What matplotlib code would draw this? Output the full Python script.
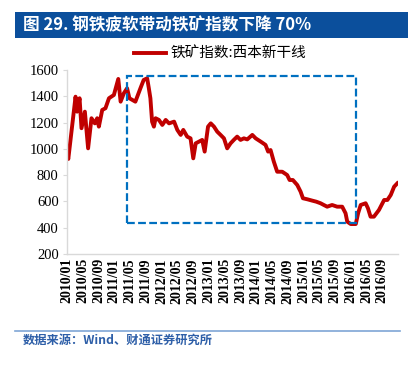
import matplotlib
matplotlib.use("Agg")
import matplotlib.pyplot as plt
import matplotlib.dates as mdates
from matplotlib.patches import Rectangle
import pandas as pd

dates = ["2010-01-01", "2010-01-11", "2010-03-08", "2010-03-20", "2010-04-08", "2010-04-23",
         "2010-05-19", "2010-06-13", "2010-07-09", "2010-08-04", "2010-08-22", "2010-09-04",
         "2010-09-30", "2010-10-25", "2010-11-21", "2010-12-29", "2011-02-01", "2011-02-19",
         "2011-03-16", "2011-04-10", "2011-04-28", "2011-06-13", "2011-07-22", "2011-08-16",
         "2011-09-12", "2011-09-25", "2011-10-07", "2011-10-20", "2011-11-03", "2011-11-16",
         "2011-12-12", "2012-01-07", "2012-02-02", "2012-02-28", "2012-04-07", "2012-05-02",
         "2012-05-28", "2012-06-17", "2012-07-17", "2012-08-12", "2012-09-02", "2012-09-21",
         "2012-10-16", "2012-11-10", "2012-11-29", "2012-12-25", "2013-01-15", "2013-02-09",
         "2013-03-06", "2013-04-01", "2013-04-27", "2013-05-22", "2013-06-17", "2013-07-12",
         "2013-08-07", "2013-09-02", "2013-09-28", "2013-10-24", "2013-12-02", "2013-12-28",
         "2014-02-05", "2014-03-14", "2014-04-03", "2014-04-22", "2014-05-17", "2014-06-12",
         "2014-07-21", "2014-08-28", "2014-09-16", "2014-10-11", "2014-11-14", "2014-12-10",
         "2014-12-28", "2015-02-01", "2015-03-10", "2015-04-10", "2015-05-13", "2015-06-07",
         "2015-07-03", "2015-08-10", "2015-09-18", "2015-10-27", "2015-11-22", "2015-12-05",
         "2016-01-01", "2016-02-09", "2016-02-27", "2016-03-18", "2016-04-25", "2016-05-13",
         "2016-06-02", "2016-06-28", "2016-08-06", "2016-09-15", "2016-10-10", "2016-11-05",
         "2016-12-01", "2016-12-26"]
values = [974, 923, 1397, 1283, 1385, 1157,
          1283, 1004, 1233, 1194, 1233, 1169,
          1296, 1309, 1385, 1410, 1532, 1359,
          1423, 1461, 1385, 1359, 1461, 1524,
          1537, 1461, 1385, 1207, 1169, 1233,
          1220, 1182, 1220, 1194, 1207, 1144,
          1106, 1144, 1093, 1080, 928, 1042,
          1055, 1068, 979, 1169, 1194, 1169,
          1131, 1106, 1080, 1004, 1042, 1068,
          1093, 1068, 1080, 1072, 1106, 1080,
          1055, 1030, 979, 991, 903, 826,
          826, 801, 763, 763, 725, 674,
          624, 616, 606, 598, 586, 573,
          560, 573, 560, 560, 510, 446,
          428, 428, 510, 573, 586, 548,
          484, 484, 535, 611, 611, 649,
          712, 738]

series_label = "铁矿指数:西本新干线"
title = "图 29. 钢铁疲软带动铁矿指数下降 70%"
source = "数据来源：Wind、财通证券研究所"
box_start, box_end = "2011-04-07", "2016-02-12"
box_low, box_high = 436, 1555

cjk = ["Noto Sans CJK SC", "DejaVu Sans"]
serif = ["Liberation Serif", "DejaVu Serif"]

fig = plt.figure(figsize=(4.13, 3.67), dpi=100)
fig.patch.set_facecolor("white")

# title bar
fig.patches.append(Rectangle((15 / 413, 1 - 38 / 367), 393 / 413, 26 / 367,
                             transform=fig.transFigure, facecolor="#0b4f9c",
                             edgecolor="none", zorder=0))
fig.text(23 / 413, 1 - 25 / 367, title, color="white", fontsize=12,
         fontweight="bold", family=cjk, va="center", ha="left")

ax = fig.add_axes([67 / 413, 1 - 254 / 367, 331 / 413, 184 / 367])
x = pd.to_datetime(dates)
ax.plot(x, values, color="#c00000", lw=2.8, label=series_label, solid_joinstyle="round")

x0 = mdates.date2num(pd.Timestamp(box_start))
x1 = mdates.date2num(pd.Timestamp(box_end))
ax.add_patch(Rectangle((x0, box_low), x1 - x0, box_high - box_low, fill=False,
                       edgecolor="#0070c0", lw=1.6, linestyle=(0, (3.5, 1.5)), zorder=3))

ax.set_ylim(200, 1600)
ax.set_yticks(range(200, 1601, 200))
ax.set_xlim(pd.Timestamp("2010-01-01"), pd.Timestamp("2016-12-31"))
ax.xaxis.set_major_locator(mdates.MonthLocator(bymonth=[1, 5, 9]))
ax.xaxis.set_major_formatter(mdates.DateFormatter("%Y/%m"))
for lab in ax.get_xticklabels():
    lab.set_rotation(90)
    lab.set_family(serif)
    lab.set_fontweight("bold")
    lab.set_fontsize(10)
for lab in ax.get_yticklabels():
    lab.set_family(serif)
    lab.set_fontsize(10.5)

for s in ["top", "right"]:
    ax.spines[s].set_visible(False)
for s in ["left", "bottom"]:
    ax.spines[s].set_color("#d9d9d9")
    ax.spines[s].set_linewidth(1.0)
ax.tick_params(axis="y", length=3, color="#d9d9d9", pad=3)
ax.tick_params(axis="x", length=0, pad=3)

ax.legend(loc="center left", bbox_to_anchor=(134 / 413, 1 - 54 / 367),
          bbox_transform=fig.transFigure, frameon=False, prop={"family": cjk, "size": 10.5},
          handlelength=2.2, handletextpad=0.3, borderaxespad=0, borderpad=0)

# source line
fig.add_artist(plt.Line2D([15 / 413, 400 / 413], [1 - 331 / 367, 1 - 331 / 367],
                          color="#7fa6d6", lw=1.2, transform=fig.transFigure))
fig.text(23 / 413, 1 - 340 / 367, source, color="#2e5fa8", fontsize=8.8,
         fontweight="bold", family=cjk, va="center", ha="left")

fig.savefig("out.png", dpi=100)
